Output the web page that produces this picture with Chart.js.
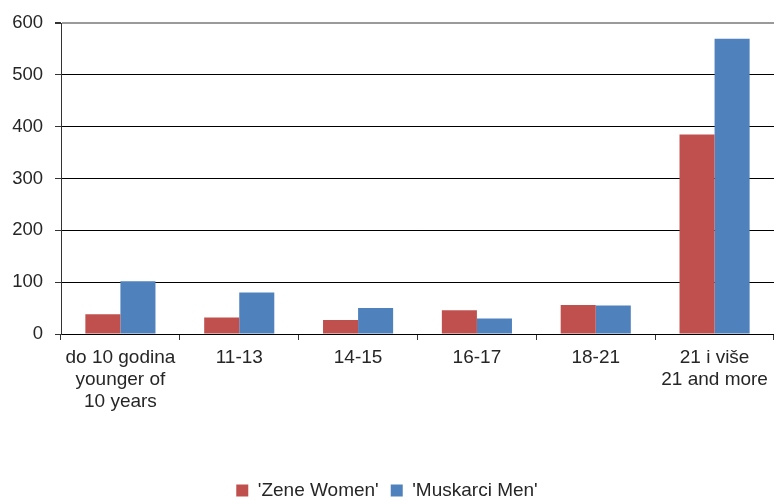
<!DOCTYPE html>
<html>
<head>
<meta charset="utf-8">
<script src="https://cdn.jsdelivr.net/npm/chart.js@4/dist/chart.umd.min.js"></script>
<style>
  html, body { margin: 0; padding: 0; background: #ffffff; }
  #wrap { width: 775px; height: 500px; position: relative; }
</style>
</head>
<body>
<div id="wrap"><canvas id="c" width="775" height="500"></canvas></div>
<script>
// Age groups (two-line labels: local name / English)
const categories = [
  ["do 10 godina", "younger of", "10 years"],
  "11-13",
  "14-15",
  "16-17",
  "18-21",
  ["21 i više", "21 and more"]
];
const seriesNames = ["'Zene Women'", "'Muskarci Men'"];
const women = [38, 32, 27, 46, 56, 385];
const men = [102, 80, 50, 30, 55, 570];
const yTicks = [0, 100, 200, 300, 400, 500, 600];

const RED = '#C0504D';
const BLUE = '#4F81BD';
const TEXT = '#262626';
const FONT = "'Liberation Sans', Arial, sans-serif";

new Chart(document.getElementById('c'), {
  type: 'bar',
  data: {
    labels: categories,
    datasets: [
      { label: seriesNames[0], data: women, backgroundColor: RED, borderWidth: 0 },
      { label: seriesNames[1], data: men, backgroundColor: BLUE, borderWidth: 0 }
    ]
  },
  options: {
    responsive: false,
    animation: false,
    devicePixelRatio: 1,
    layout: { padding: { top: 10, right: 1, left: 0, bottom: -10 } },
    datasets: { bar: { categoryPercentage: 0.59, barPercentage: 1.0 } },
    scales: {
      x: {
        offset: true,
        border: { color: '#000000', width: 1 },
        grid: {
          offset: true,
          drawOnChartArea: false,
          drawTicks: true,
          tickLength: 6,
          tickColor: '#333333'
        },
        ticks: {
          color: TEXT,
          padding: 7,
          maxRotation: 0,
          autoSkip: false,
          font: { family: FONT, size: 19, lineHeight: 1.16 }
        },
        afterFit: (s) => { s.height = 135; }
      },
      y: {
        min: 0,
        max: 600,
        afterBuildTicks: (s) => { s.ticks = yTicks.map(v => ({ value: v })); },
        border: { color: '#333333', width: 1 },
        grid: {
          color: (ctx) => ctx.tick && ctx.tick.value === 600 ? '#9a9a9a' : '#000000',
          lineWidth: (ctx) => ctx.tick && ctx.tick.value === 600 ? 2 : 1,
          tickColor: '#333333',
          tickLength: 6
        },
        ticks: {
          color: TEXT,
          padding: 12,
          font: { family: FONT, size: 18.5 }
        },
        afterFit: (s) => { s.width = 61; }
      }
    },
    plugins: {
      legend: {
        position: 'bottom',
        labels: {
          boxWidth: 12,
          boxHeight: 12,
          padding: 12,
          color: TEXT,
          font: { family: FONT, size: 19 }
        }
      },
      tooltip: { enabled: false }
    }
  }
});
</script>
</body>
</html>
